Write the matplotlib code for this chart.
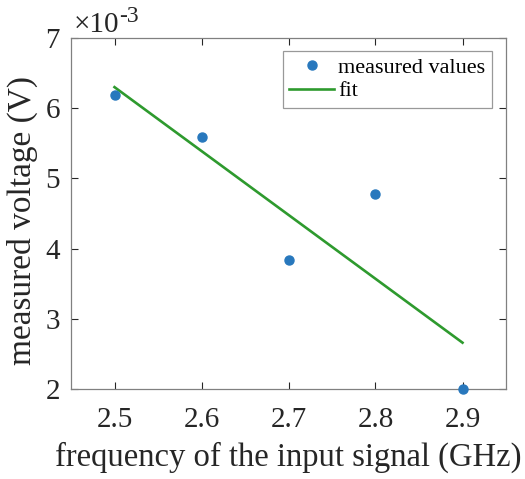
import numpy as np
import matplotlib.pyplot as plt

# data
freq = [2.5, 2.6, 2.7, 2.8, 2.9]                     # GHz
voltage = [6.19e-3, 5.59e-3, 3.84e-3, 4.78e-3, 2.00e-3]  # V
fit_freq = [2.5, 2.9]
fit_voltage = [6.30e-3, 2.66e-3]

xticks = [2.5, 2.6, 2.7, 2.8, 2.9]
yticks = [2, 3, 4, 5, 6, 7]

plt.rcParams['font.family'] = ['Liberation Serif', 'DejaVu Serif']

W, H = 525, 479
fig = plt.figure(figsize=(W / 100, H / 100), dpi=100)
ax = fig.add_axes([71 / W, 1 - 389 / H, 435 / W, 351 / H])

scale = 1e3
ax.plot(freq, np.array(voltage) * scale, 'o', color='#2878bd', markersize=6.5,
        label='measured values', clip_on=False, zorder=3)
ax.plot(fit_freq, np.array(fit_voltage) * scale, '-', color='#2e9a2e',
        linewidth=1.9, label='fit')

ax.set_xlim(2.45, 2.95)
ax.set_ylim(2, 7)
ax.set_xticks(xticks)
ax.set_yticks(yticks)
ax.tick_params(direction='in', top=True, right=True, labelsize=21,
               colors='#262626', length=5)
ax.tick_params(axis='x', pad=13)
ax.tick_params(axis='y', pad=8)
for s in ax.spines.values():
    s.set_color('#808080')
    s.set_linewidth(0.9)

ax.set_xlabel('frequency of the input signal (GHz)', fontsize=23.5,
              color='#262626', labelpad=6)
ax.set_ylabel('measured voltage (V)', fontsize=24, color='#262626')
ax.yaxis.set_label_coords(-0.076, 0.479)

# exponent label, MATLAB style
ax.text(74 / W, 1 - 32 / H, '×10', transform=fig.transFigure, fontsize=21,
        color='#262626', ha='left', va='baseline')
ax.text(119 / W, 1 - 22 / H, '-3', transform=fig.transFigure, fontsize=17,
        color='#262626', ha='left', va='baseline')

leg = ax.legend(loc='upper right', bbox_to_anchor=(492 / W, 1 - 51 / H),
                bbox_transform=fig.transFigure, fontsize=16,
                frameon=True, fancybox=False, edgecolor='#808080',
                borderpad=0.3, handlelength=2.0, handletextpad=0.2,
                labelspacing=0.12, borderaxespad=0)
leg.get_frame().set_linewidth(0.9)

fig.savefig('out.png', dpi=100)
